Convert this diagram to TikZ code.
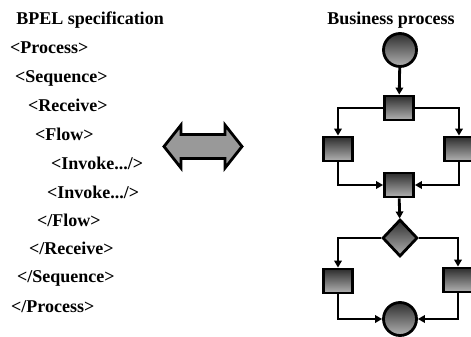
\documentclass[tikz,border=0pt]{standalone}
\usepackage{fontspec}
\setmainfont{Liberation Serif}
\usetikzlibrary{shapes.geometric,arrows.meta}
\begin{document}
\begin{tikzpicture}[x=1pt,y=-1pt,
  code/.style={anchor=base west,inner sep=0pt,font=\fontsize{18}{20}\selectfont\bfseries},
  title/.style={anchor=base,inner sep=0pt,font=\fontsize{18}{20}\selectfont\bfseries},
  grad/.style={draw=black,line width=2.8pt,top color=black!82,bottom color=black!30},
  act/.style={grad,rectangle,minimum width=29pt,minimum height=24pt,inner sep=0pt},
  ev/.style={grad,circle,minimum size=33pt,inner sep=0pt},
  gw/.style={grad,diamond,minimum width=35pt,minimum height=37pt,inner sep=0pt},
  flow/.style={line width=2.8pt,-{Triangle[length=7pt,width=7.5pt]}}]
\useasboundingbox (0,0) rectangle (471,337);
% left texts
\node[title] (t1) at (90,25) {BPEL specification};
\node[code] (c1) at (10,53) {<Process>};
\node[code] (c2) at (15,82) {<Sequence>};
\node[code] (c3) at (28,111) {<Receive>};
\node[code] (c4) at (35,140) {<Flow>};
\node[code] (c5) at (51,169) {<Invoke.../>};
\node[code] (c6) at (47,198) {<Invoke.../>};
\node[code] (c7) at (37,226) {</Flow>};
\node[code] (c8) at (29,254) {</Receive>};
\node[code] (c9) at (17,282) {</Sequence>};
\node[code] (c10) at (11,312) {</Process>};
% double arrow
\draw[line width=2.8pt,fill=black!40,line join=miter]
  (164,146.5) -- (181,125) -- (181,134.5) -- (225,134.5) -- (225,125)
  -- (242,146.5) -- (225,168) -- (225,158.5) -- (181,158.5) -- (181,168) -- cycle;
% right diagram
\node[title] (t2) at (391,25) {Business process};
\node[ev] (start) at (400,50) {};
\node[act] (b1) at (399,108) {};
\node[act] (l1) at (338,149) {};
\node[act] (r1) at (459,149) {};
\node[act] (b2) at (399,185) {};
\node[gw] (d) at (400,238) {};
\node[act] (l2) at (338,281) {};
\node[act] (r2) at (458,280) {};
\node[ev] (end) at (400,319) {};
\draw[flow] (start) -- (b1);
\draw[flow] (b1.west) -| (l1.north);
\draw[flow] (b1.east) -| (r1.north);
\draw[flow] (l1.south) |- (b2.west);
\draw[flow] (r1.south) |- (b2.east);
\draw[flow] (b2) -- (d);
\draw[flow] (d.west) -| (l2.north);
\draw[flow] (d.east) -| (r2.north);
\draw[flow] (l2.south) |- (end.west);
\draw[flow] (r2.south) |- (end.east);
\end{tikzpicture}
\end{document}
